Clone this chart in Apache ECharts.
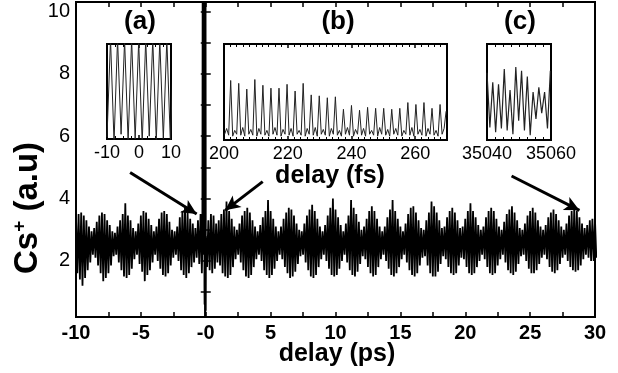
<!DOCTYPE html>
<html>
<head>
<meta charset="utf-8">
<script src="https://cdn.jsdelivr.net/npm/echarts@6/dist/echarts.min.js"></script>
<style>
  html, body { margin: 0; padding: 0; background: #fff; }
  #chart { width: 618px; height: 373px; }
</style>
</head>
<body>
<div id="chart"></div>
<script>
// main trace: upper / lower envelope of the fast oscillation, every 0.2 ps from -10 ps
const mainStart = -10;
const mainStep = 0.2;
const mainUpper = [
  3.4, 3.5, 3.55, 3.45, 3.3, 3.1, 2.95, 3.05, 3.25, 3.45,
  3.55, 3.5, 3.3, 3.15, 2.95, 2.9, 3.1, 3.3, 3.5, 3.85,
  3.45, 3.3, 3.05, 2.95, 3.2, 3.45, 3.6, 3.55, 3.35, 3.15,
  2.95, 3.1, 3.35, 3.55, 3.6, 3.5, 3.25, 3.0, 2.95, 3.1,
  3.4, 3.6, 3.7, 3.55, 3.35, 3.2, 3.05, 3.3, 3.5, 3.4,
  3.2, 3.3, 3.5, 3.45, 3.2, 3.3, 3.5, 3.65, 3.9, 3.6,
  3.35, 3.1, 3.0, 3.2, 3.45, 3.6, 3.7, 3.55, 3.3, 3.1,
  2.95, 3.15, 3.4, 3.6, 3.95, 3.6, 3.35, 3.1, 2.95, 3.1,
  3.35, 3.55, 3.7, 3.65, 3.45, 3.2, 3.0, 2.95, 3.2, 3.45,
  3.65, 3.8, 3.6, 3.35, 3.1, 2.95, 3.15, 3.45, 3.7, 4.0,
  3.65, 3.4, 3.15, 2.95, 3.2, 3.45, 3.95, 3.7, 3.5, 3.25,
  3.0, 3.1, 3.35, 3.6, 3.75, 3.6, 3.35, 3.1, 2.95, 3.1,
  3.4, 3.65, 3.95, 3.6, 3.35, 3.1, 2.95, 3.2, 3.5, 3.7,
  3.75, 3.55, 3.3, 3.05, 3.0, 3.3, 3.55, 3.9, 3.75, 3.55,
  3.3, 3.05, 3.1, 3.4, 3.6, 3.7, 3.55, 3.3, 3.05, 3.1,
  3.35, 3.6, 3.85, 3.6, 3.4, 3.15, 3.0, 3.1, 3.4, 3.6,
  3.7, 3.6, 3.35, 3.1, 3.0, 3.25, 3.5, 3.65, 3.75, 3.55,
  3.3, 3.05, 3.0, 3.2, 3.45, 3.6, 3.7, 3.55, 3.3, 3.1,
  3.0, 3.15, 3.4, 3.55, 3.65, 3.5, 3.3, 3.1, 3.0, 3.2,
  3.45, 3.6, 3.7, 3.6, 3.4, 3.2, 3.05, 3.15, 3.3, 3.35,
  3.3
];
const mainLower = [
  1.6, 1.4, 1.2, 1.45, 1.7, 1.95, 2.2, 2.1, 1.85, 1.6,
  1.35, 1.45, 1.6, 1.85, 2.15, 2.2, 1.95, 1.7, 1.5, 1.45,
  1.55, 1.75, 2.05, 2.2, 1.9, 1.65, 1.35, 1.55, 1.7, 1.95,
  2.2, 2.0, 1.75, 1.55, 1.5, 1.6, 1.85, 2.1, 2.2, 2.0,
  1.7, 1.55, 1.45, 1.6, 1.8, 1.95, 2.1, 1.9, 1.6, 1.2,
  1.8, 1.7, 1.6, 1.75, 1.95, 1.85, 1.6, 1.5, 1.45, 1.55,
  1.8, 2.05, 2.2, 1.95, 1.7, 1.5, 1.45, 1.55, 1.8, 2.05,
  2.2, 2.0, 1.7, 1.55, 1.45, 1.55, 1.75, 2.0, 2.2, 2.05,
  1.8, 1.6, 1.45, 1.5, 1.65, 1.9, 2.15, 2.2, 1.95, 1.7,
  1.5, 1.45, 1.55, 1.8, 2.05, 2.2, 2.0, 1.75, 1.55, 1.5,
  1.55, 1.75, 2.0, 2.2, 1.95, 1.7, 1.55, 1.5, 1.65, 1.9,
  2.15, 2.05, 1.8, 1.6, 1.5, 1.55, 1.8, 2.05, 2.2, 2.0,
  1.75, 1.55, 1.5, 1.6, 1.8, 2.05, 2.2, 1.95, 1.7, 1.55,
  1.5, 1.6, 1.85, 2.1, 2.15, 1.85, 1.6, 1.5, 1.5, 1.65,
  1.9, 2.15, 2.05, 1.8, 1.6, 1.55, 1.6, 1.85, 2.1, 2.05,
  1.8, 1.6, 1.55, 1.6, 1.8, 2.0, 2.2, 2.05, 1.8, 1.6,
  1.55, 1.6, 1.85, 2.05, 2.2, 1.95, 1.7, 1.6, 1.55, 1.65,
  1.9, 2.15, 2.2, 2.0, 1.75, 1.6, 1.6, 1.7, 1.9, 2.1,
  2.2, 2.05, 1.8, 1.65, 1.6, 1.7, 1.9, 2.1, 2.2, 2.0,
  1.8, 1.7, 1.65, 1.7, 1.85, 2.05, 2.2, 2.1, 2.0, 2.0,
  2.1
];
// the burst at zero delay
const spikeTimes = [-0.26, -0.24, -0.22, -0.12, -0.105, -0.09, -0.075, -0.06, -0.045, -0.03, -0.015, 0.0, 0.015];
const spikeValues = [2.6, 10.4, 2.2, 7.5, 10.4, 0.6, 10.4, 0.15, 10.4, 0.15, 10.4, 0.4, 2.8];

// inset (a): -10 .. 10 fs
const aStart = -10;
const aStep = 1.1;
const aValues = [0.02, 1.05, -0.03, 1.05, 0.05, 1.04, -0.02, 1.05, 0.0, 1.03,
  -0.04, 1.05, 0.03, 1.05, -0.02, 1.04, 0.0, 1.05, -0.03, 1.05];

// inset (b): 200 .. 270 fs
const bStart = 200.2;
const bStep = 0.632;
const bValues = [
  0.06, 0.12, 0.05, 0.62, 0.04, 0.10, 0.06, 0.59, 0.05, 0.13, 0.04, 0.53,
  0.06, 0.11, 0.05, 0.63, 0.04, 0.12, 0.06, 0.57, 0.05, 0.10, 0.04, 0.54,
  0.06, 0.13, 0.05, 0.54, 0.04, 0.11, 0.06, 0.58, 0.05, 0.12, 0.04, 0.51,
  0.06, 0.10, 0.05, 0.59, 0.04, 0.12, 0.06, 0.47, 0.05, 0.13, 0.04, 0.46,
  0.06, 0.11, 0.05, 0.44, 0.04, 0.12, 0.06, 0.45, 0.05, 0.10, 0.04, 0.32,
  0.06, 0.13, 0.05, 0.36, 0.04, 0.11, 0.06, 0.31, 0.05, 0.12, 0.04, 0.34,
  0.06, 0.10, 0.05, 0.33, 0.04, 0.13, 0.06, 0.33, 0.05, 0.11, 0.04, 0.32,
  0.06, 0.12, 0.05, 0.33, 0.04, 0.10, 0.06, 0.39, 0.05, 0.13, 0.04, 0.37,
  0.06, 0.11, 0.05, 0.39, 0.04, 0.12, 0.06, 0.33, 0.05, 0.10, 0.04, 0.37,
  0.06, 0.12, 0.30
];

// inset (c): 35040 .. 35060 fs
const cStart = 35040;
const cStep = 0.9;
const cValues = [0.70, 0.13, 0.60, 0.08, 0.58, 0.12, 0.74, 0.10, 0.52, 0.06, 0.76, 0.20,
  0.72, 0.10, 0.66, 0.05, 0.50, 0.22, 0.55, 0.28, 0.50, 0.12, 0.72];

const yTickValues = [1, 2, 3, 4, 5, 6, 7, 8, 9, 10];
const yLabelValues = [2, 4, 6, 8, 10];

// arrows, in (ps, a.u.)
const arrows = [
  [[-5.83, 4.83], [-0.7, 3.5]],
  [[4.39, 4.54], [1.5, 3.62]],
  [[23.57, 4.72], [28.8, 3.62]]
];

const mainPoints = [];
mainUpper.forEach((v, k) => {
  const t = mainStart + k * mainStep;
  mainPoints.push([t, v]);
  mainPoints.push([t + mainStep / 2, mainLower[k]]);
});
spikeTimes.forEach((t, i) => mainPoints.push([t, spikeValues[i]]));
mainPoints.sort((p, q) => p[0] - q[0]);

const toPoints = (start, step, vals) => vals.map((v, i) => [start + i * step, v]);

const FONT = "'Liberation Sans', Arial, sans-serif";
const tickStyle = { color: '#000', width: 1.5 };

function insetX(gridIndex, min, max, interval, split, showLabels, showMax) {
  return {
    type: 'value', gridIndex, min, max, interval,
    position: showLabels ? 'bottom' : 'top',
    axisLine: { show: false },
    axisTick: { show: true, inside: true, length: 4, lineStyle: tickStyle },
    minorTick: { show: true, splitNumber: split, length: 3, lineStyle: { color: '#000', width: 1 } },
    splitLine: { show: false },
    axisLabel: {
      show: showLabels, color: '#000', fontFamily: FONT, fontSize: 18, margin: 5,
      showMaxLabel: showMax, showMinLabel: true,
      formatter: v => String(v)
    }
  };
}
function insetY(gridIndex) {
  return {
    type: 'value', gridIndex, min: 0, max: 1,
    axisLine: { show: false }, axisTick: { show: false },
    axisLabel: { show: false }, splitLine: { show: false }
  };
}

const chart = echarts.init(document.getElementById('chart'));
chart.setOption({
  animation: false,
  backgroundColor: '#fff',
  grid: [
    { left: 76, right: 23, top: 2, bottom: 56, show: true, borderColor: '#000', borderWidth: 2 },
    { left: 107, top: 44, width: 64, height: 95, show: true, borderColor: '#000', borderWidth: 2 },
    { left: 224, top: 44, width: 223, height: 96, show: true, borderColor: '#000', borderWidth: 2 },
    { left: 487, top: 44, width: 64, height: 96, show: true, borderColor: '#000', borderWidth: 2 }
  ],
  xAxis: [
    {
      type: 'value', gridIndex: 0, min: -10, max: 30, interval: 5, position: 'bottom',
      axisLine: { show: false },
      axisTick: { show: true, inside: true, length: 5, lineStyle: tickStyle },
      minorTick: { show: true, splitNumber: 2, length: 5, lineStyle: tickStyle },
      splitLine: { show: false },
      axisLabel: {
        color: '#000', fontFamily: FONT, fontSize: 20, fontWeight: 'bold', margin: 6,
        formatter: v => (v === 0 ? '-0' : String(v))
      }
    },
    {
      type: 'value', gridIndex: 0, min: -10, max: 30, interval: 5, position: 'top',
      axisLine: { show: false },
      axisTick: { show: true, inside: true, length: 5, lineStyle: tickStyle },
      minorTick: { show: true, splitNumber: 2, length: 5, lineStyle: tickStyle },
      splitLine: { show: false }, axisLabel: { show: false }
    },
    insetX(1, -10, 10, 10, 4, true, true),
    insetX(1, -10, 10, 10, 4, false, true),
    insetX(2, 200, 270, 20, 10, true, false),
    insetX(2, 200, 270, 20, 10, false, false),
    insetX(3, 35040, 35060, 20, 8, true, true),
    insetX(3, 35040, 35060, 20, 8, false, true)
  ],
  yAxis: [
    {
      type: 'value', gridIndex: 0, min: 0.2, max: 10.3, position: 'left',
      axisLine: { show: false },
      axisTick: { show: true, inside: true, length: 5, lineStyle: tickStyle, customValues: yTickValues },
      splitLine: { show: false },
      axisLabel: { color: '#000', fontFamily: FONT, fontSize: 20, margin: 6, customValues: yLabelValues }
    },
    {
      type: 'value', gridIndex: 0, min: 0.2, max: 10.3, position: 'right',
      axisLine: { show: false },
      axisTick: { show: true, inside: true, length: 5, lineStyle: tickStyle, customValues: yTickValues },
      splitLine: { show: false }, axisLabel: { show: false }
    },
    insetY(1), insetY(2), insetY(3)
  ],
  series: [
    {
      type: 'line', xAxisIndex: 0, yAxisIndex: 0, data: mainPoints,
      showSymbol: false, symbol: 'none', clip: true,
      lineStyle: { color: '#000', width: 1.8 },
      markLine: {
        silent: true, animation: false,
        symbol: ['none', 'arrow'], symbolSize: [11, 15],
        label: { show: false },
        lineStyle: { color: '#000', width: 3, type: 'solid' },
        data: arrows.map(a => [{ coord: a[0] }, { coord: a[1] }])
      }
    },
    {
      type: 'line', xAxisIndex: 2, yAxisIndex: 2, data: toPoints(aStart, aStep, aValues),
      showSymbol: false, symbol: 'none', clip: true,
      lineStyle: { color: '#222', width: 1 }
    },
    {
      type: 'line', xAxisIndex: 4, yAxisIndex: 3, data: toPoints(bStart, bStep, bValues),
      showSymbol: false, symbol: 'none', clip: true,
      lineStyle: { color: '#222', width: 1 }
    },
    {
      type: 'line', xAxisIndex: 6, yAxisIndex: 4, data: toPoints(cStart, cStep, cValues),
      showSymbol: false, symbol: 'none', clip: true,
      lineStyle: { color: '#222', width: 1.2 }
    }
  ],
  graphic: [
    { type: 'text', x: 140, y: 22, style: { text: '(a)', font: 'bold 26px ' + FONT, fill: '#000', align: 'center', verticalAlign: 'middle' } },
    { type: 'text', x: 338, y: 22, style: { text: '(b)', font: 'bold 26px ' + FONT, fill: '#000', align: 'center', verticalAlign: 'middle' } },
    { type: 'text', x: 520, y: 22, style: { text: '(c)', font: 'bold 26px ' + FONT, fill: '#000', align: 'center', verticalAlign: 'middle' } },
    { type: 'text', x: 330, y: 176, style: { text: 'delay (fs)', font: 'bold 25px ' + FONT, fill: '#000', align: 'center', verticalAlign: 'middle' } },
    { type: 'text', x: 337, y: 354, style: { text: 'delay (ps)', font: 'bold 25px ' + FONT, fill: '#000', align: 'center', verticalAlign: 'middle' } },
    {
      type: 'text', x: 28, y: 208, rotation: Math.PI / 2,
      style: {
        text: '{a|Cs}{b|+}{a| (a.u)}', align: 'center', verticalAlign: 'middle', fill: '#000',
        rich: {
          a: { fontFamily: FONT, fontSize: 33, fontWeight: 'bold', fill: '#000' },
          b: { fontFamily: FONT, fontSize: 19, fontWeight: 'bold', fill: '#000', padding: [0, 0, 17, 0] }
        }
      }
    }
  ]
});
</script>
</body>
</html>
